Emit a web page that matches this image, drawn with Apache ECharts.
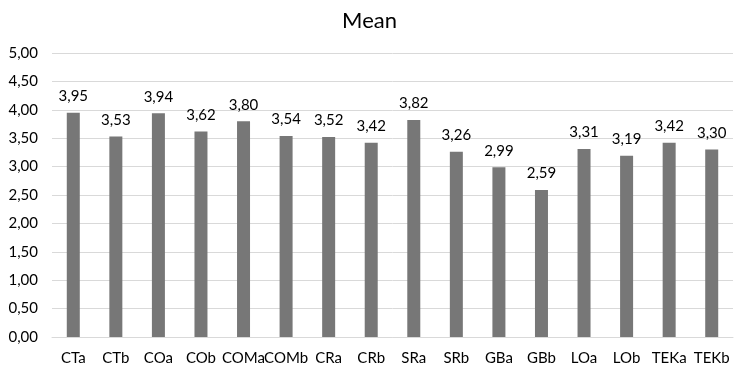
<!DOCTYPE html>
<html><head><meta charset="utf-8">
<script src="https://cdn.jsdelivr.net/npm/echarts@6/dist/echarts.min.js"></script>
<style>html,body{margin:0;padding:0;background:#fff}#c{width:739px;height:368px}</style>
</head><body><div id="c"></div>
<script>
const categories = ['CTa','CTb','COa','COb','COMa','COMb','CRa','CRb','SRa','SRb','GBa','GBb','LOa','LOb','TEKa','TEKb'];
const meanValues = [3.95,3.53,3.94,3.62,3.80,3.54,3.52,3.42,3.82,3.26,2.99,2.59,3.31,3.19,3.42,3.30];
const fmt = v => v.toFixed(2).replace('.', ',');
const chart = echarts.init(document.getElementById('c'));
chart.setOption({
  animation:false,
  textStyle:{fontFamily:'Lato'},
  title:{text:'Mean',left:'center',top:5,textStyle:{fontFamily:'Lato',fontSize:22,fontWeight:'normal',color:'#000'}},
  grid:{left:52,right:6,top:53,bottom:31},
  xAxis:{type:'category',data:categories,
    axisLine:{lineStyle:{color:'#d9d9d9'}},axisTick:{show:false},
    axisLabel:{color:'#000',fontSize:15,margin:14,interval:0}},
  yAxis:{type:'value',min:0,max:5,interval:0.5,
    axisLine:{show:false},axisTick:{show:false},
    splitLine:{lineStyle:{color:'#d9d9d9'}},
    axisLabel:{color:'#000',fontSize:15,margin:14,formatter:v=>fmt(v)}},
  series:[{type:'bar',data:meanValues,barWidth:13,itemStyle:{color:'#777777'},
    label:{show:true,position:'top',distance:9,color:'#000',fontSize:15,formatter:p=>fmt(p.value)}}]
});
</script></body></html>
